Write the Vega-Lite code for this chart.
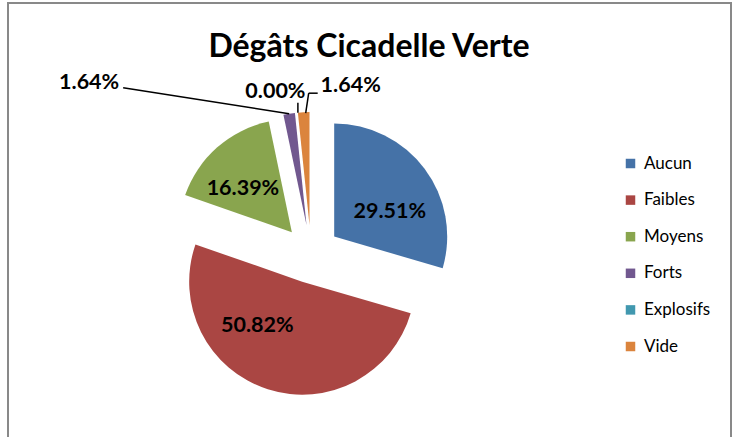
{
  "$schema": "https://vega.github.io/schema/vega-lite/v6.json",
  "width": 606,
  "height": 308,
  "autosize": {"type": "none"},
  "padding": {"left": 8, "top": 100, "right": 124, "bottom": 29},
  "background": "white",
  "view": {"stroke": null},
  "title": {
    "text": "Dégâts Cicadelle Verte",
    "font": "Lato",
    "fontSize": 32,
    "fontWeight": "bold",
    "color": "black",
    "anchor": "middle",
    "frame": "group",
    "dx": 58,
    "offset": -62
  },
  "data": {
    "values": [
      {"categorie": "Aucun", "pct": 29.51},
      {"categorie": "Faibles", "pct": 50.82},
      {"categorie": "Moyens", "pct": 16.39},
      {"categorie": "Forts", "pct": 1.64},
      {"categorie": "Explosifs", "pct": 0.0},
      {"categorie": "Vide", "pct": 1.64}
    ]
  },
  "transform": [
    {"window": [{"op": "row_number", "as": "idx"}, {"op": "sum", "field": "pct", "as": "cum"}], "frame": [null, 0]},
    {"joinaggregate": [{"op": "sum", "field": "pct", "as": "total"}]},
    {"calculate": "2*PI*(datum.cum - datum.pct/2)/datum.total", "as": "mid"},
    {"calculate": "format(datum.pct, '.2f') + '%'", "as": "label"}
  ],
  "layer": [
    {
      "mark": {
        "type": "arc",
        "outerRadius": 113,
        "xOffset": {"expr": "29*sin(datum.mid)"},
        "yOffset": {"expr": "-29*cos(datum.mid)"}
      },
      "encoding": {
        "theta": {"field": "pct", "type": "quantitative", "stack": true},
        "order": {"field": "idx", "type": "quantitative"},
        "color": {
          "field": "categorie",
          "type": "nominal",
          "scale": {
            "domain": ["Aucun", "Faibles", "Moyens", "Forts", "Explosifs", "Vide"],
            "range": ["#4572A7", "#AA4643", "#89A54E", "#71588F", "#4198AF", "#DB843D"]
          },
          "legend": {
            "orient": "none",
            "legendX": 614,
            "legendY": 55,
            "title": null,
            "symbolType": "square",
            "symbolSize": 90,
            "symbolStrokeWidth": 0,
            "labelFont": "Lato",
            "labelFontSize": 17,
            "labelColor": "black",
            "rowPadding": 18.6,
            "labelOffset": 5,
            "padding": 0
          }
        }
      }
    },
    {
      "transform": [{"filter": "datum.categorie === 'Aucun'"}],
      "mark": {
        "type": "text", "font": "Lato", "fontSize": 21.5, "fontWeight": "bold", "color": "black",
        "align": "center", "baseline": "middle", "dx": 6, "dy": 13,
        "xOffset": {"expr": "91*sin(datum.mid)"},
        "yOffset": {"expr": "-91*cos(datum.mid)"}
      },
      "encoding": {"text": {"field": "label", "type": "nominal"}}
    },
    {
      "transform": [{"filter": "datum.categorie === 'Faibles'"}],
      "mark": {
        "type": "text", "font": "Lato", "fontSize": 21.5, "fontWeight": "bold", "color": "black",
        "align": "center", "baseline": "middle", "dx": -26, "dy": -15,
        "xOffset": {"expr": "91*sin(datum.mid)"},
        "yOffset": {"expr": "-91*cos(datum.mid)"}
      },
      "encoding": {"text": {"field": "label", "type": "nominal"}}
    },
    {
      "transform": [{"filter": "datum.categorie === 'Moyens'"}],
      "mark": {
        "type": "text", "font": "Lato", "fontSize": 21.5, "fontWeight": "bold", "color": "black",
        "align": "center", "baseline": "middle", "dx": -8, "dy": 3,
        "xOffset": {"expr": "91*sin(datum.mid)"},
        "yOffset": {"expr": "-91*cos(datum.mid)"}
      },
      "encoding": {"text": {"field": "label", "type": "nominal"}}
    },
    {
      "transform": [{"filter": "datum.categorie === 'Forts'"}],
      "mark": {
        "type": "text", "font": "Lato", "fontSize": 21.5, "fontWeight": "bold", "color": "black",
        "align": "center", "baseline": "middle",
        "xOffset": {"expr": "142*sin(datum.mid) - 200"},
        "yOffset": {"expr": "-142*cos(datum.mid) - 31"}
      },
      "encoding": {"text": {"field": "label", "type": "nominal"}}
    },
    {
      "transform": [{"filter": "datum.categorie === 'Explosifs'"}],
      "mark": {
        "type": "text", "font": "Lato", "fontSize": 21.5, "fontWeight": "bold", "color": "black",
        "align": "center", "baseline": "middle",
        "xOffset": {"expr": "142*sin(datum.mid) - 21"},
        "yOffset": {"expr": "-142*cos(datum.mid) - 21"}
      },
      "encoding": {"text": {"field": "label", "type": "nominal"}}
    },
    {
      "transform": [{"filter": "datum.categorie === 'Vide'"}],
      "mark": {
        "type": "text", "font": "Lato", "fontSize": 21.5, "fontWeight": "bold", "color": "black",
        "align": "center", "baseline": "middle",
        "xOffset": {"expr": "142*sin(datum.mid) + 47"},
        "yOffset": {"expr": "-142*cos(datum.mid) - 26"}
      },
      "encoding": {"text": {"field": "label", "type": "nominal"}}
    },
    {
      "transform": [{"filter": "datum.categorie === 'Forts'"}],
      "mark": {"type": "rule", "color": "black", "strokeWidth": 1.5},
      "encoding": {
        "x": {"value": {"expr": "width/2 + 142*sin(datum.mid)"}},
        "y": {"value": {"expr": "height/2 - 142*cos(datum.mid)"}},
        "x2": {"value": {"expr": "width/2 + 142*sin(datum.mid) - 166"}},
        "y2": {"value": {"expr": "height/2 - 142*cos(datum.mid) - 26"}}
      }
    },
    {
      "transform": [{"filter": "datum.categorie === 'Explosifs'"}],
      "mark": {"type": "rule", "color": "black", "strokeWidth": 1.5},
      "encoding": {
        "x": {"value": {"expr": "width/2 + 142*sin(datum.mid) + 1.5"}},
        "y": {"value": {"expr": "height/2 - 142*cos(datum.mid)"}},
        "x2": {"value": {"expr": "width/2 + 142*sin(datum.mid) + 1.5"}},
        "y2": {"value": {"expr": "height/2 - 142*cos(datum.mid) - 10"}}
      }
    },
    {
      "transform": [{"filter": "datum.categorie === 'Vide'"}],
      "mark": {"type": "rule", "color": "black", "strokeWidth": 1.5},
      "encoding": {
        "x": {"value": {"expr": "width/2 + 142*sin(datum.mid) + 2"}},
        "y": {"value": {"expr": "height/2 - 142*cos(datum.mid) + 1"}},
        "x2": {"value": {"expr": "width/2 + 142*sin(datum.mid) + 5"}},
        "y2": {"value": {"expr": "height/2 - 142*cos(datum.mid) - 19"}}
      }
    },
    {
      "transform": [{"filter": "datum.categorie === 'Vide'"}],
      "mark": {"type": "rule", "color": "black", "strokeWidth": 1.5},
      "encoding": {
        "x": {"value": {"expr": "width/2 + 142*sin(datum.mid) + 5"}},
        "y": {"value": {"expr": "height/2 - 142*cos(datum.mid) - 19"}},
        "x2": {"value": {"expr": "width/2 + 142*sin(datum.mid) + 14"}},
        "y2": {"value": {"expr": "height/2 - 142*cos(datum.mid) - 19"}}
      }
    },
    {
      "data": {"values": [{"frame": "cadre"}]},
      "mark": {
        "type": "rect",
        "x": 0,
        "x2": 723,
        "y": -97,
        "y2": 345,
        "fillOpacity": 0,
        "stroke": "#898989",
        "strokeWidth": 2
      }
    }
  ]
}
